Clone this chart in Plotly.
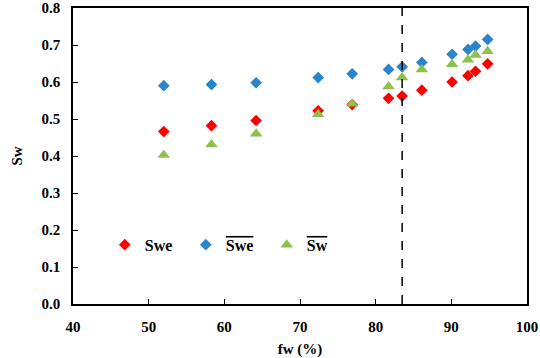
import plotly.graph_objects as go

fw = [52.0, 58.3, 64.2, 72.4, 76.9, 81.7, 83.5, 86.1, 90.1, 92.2, 93.2, 94.8]
swe = [0.466, 0.482, 0.496, 0.522, 0.539, 0.556, 0.562, 0.578, 0.600, 0.617, 0.629, 0.649]
swe_bar = [0.590, 0.593, 0.598, 0.612, 0.622, 0.634, 0.641, 0.653, 0.675, 0.688, 0.697, 0.715]
sw_bar = [0.403, 0.431, 0.460, 0.513, 0.541, 0.588, 0.612, 0.634, 0.648, 0.660, 0.673, 0.683]
fw_split = 83.5

font = "Liberation Serif"
fig = go.Figure()
fig.add_trace(go.Scatter(x=fw, y=swe, mode="markers", name="<b>Swe</b>",
                         marker=dict(symbol="diamond", size=9, color="#FF0000")))
fig.add_trace(go.Scatter(x=fw, y=swe_bar, mode="markers",
                         name="<b><span style='text-decoration:overline'>Swe</span></b>",
                         marker=dict(symbol="diamond", size=9, color="#2A84CC")))
fig.add_trace(go.Scatter(x=fw, y=sw_bar, mode="markers",
                         name="<b><span style='text-decoration:overline'>Sw</span></b>",
                         marker=dict(symbol="triangle-up", size=11, color="#8DC04C")))
fig.add_shape(type="line", x0=fw_split, x1=fw_split, y0=0, y1=0.8, xref="x", yref="y",
              line=dict(color="black", width=1.5, dash="dash"))

tf = dict(family=font, size=15, color="black", weight="bold")
axis_common = dict(showgrid=False, zeroline=False, showline=True, linecolor="black",
                   linewidth=1.5, mirror=True, ticks="inside", ticklen=5, tickcolor="black",
                   tickfont=tf, automargin=False)
fig.update_xaxes(range=[40, 100], dtick=10, ticklabelstandoff=8,
                 title=dict(text="fw (%)", font=tf), **axis_common)
fig.update_yaxes(range=[0, 0.8], dtick=0.1, tickformat=".1f", ticklabelstandoff=8,
                 title=dict(text="Sw", font=tf), **axis_common)
fig.update_layout(width=540, height=358, autosize=False, margin=dict(l=73, r=13, t=8, b=54),
                  plot_bgcolor="white", paper_bgcolor="white",
                  font=dict(family=font, size=15, color="black"),
                  legend=dict(orientation="h", x=0.07, y=0.20, xanchor="left", yanchor="middle",
                              bgcolor="rgba(0,0,0,0)",
                              font=dict(family=font, size=16, color="black"),
                              entrywidth=36, itemwidth=30))
fig.write_html("out.html", config={"responsive": False, "displayModeBar": False},
               post_script="document.body.style.margin='0';")
